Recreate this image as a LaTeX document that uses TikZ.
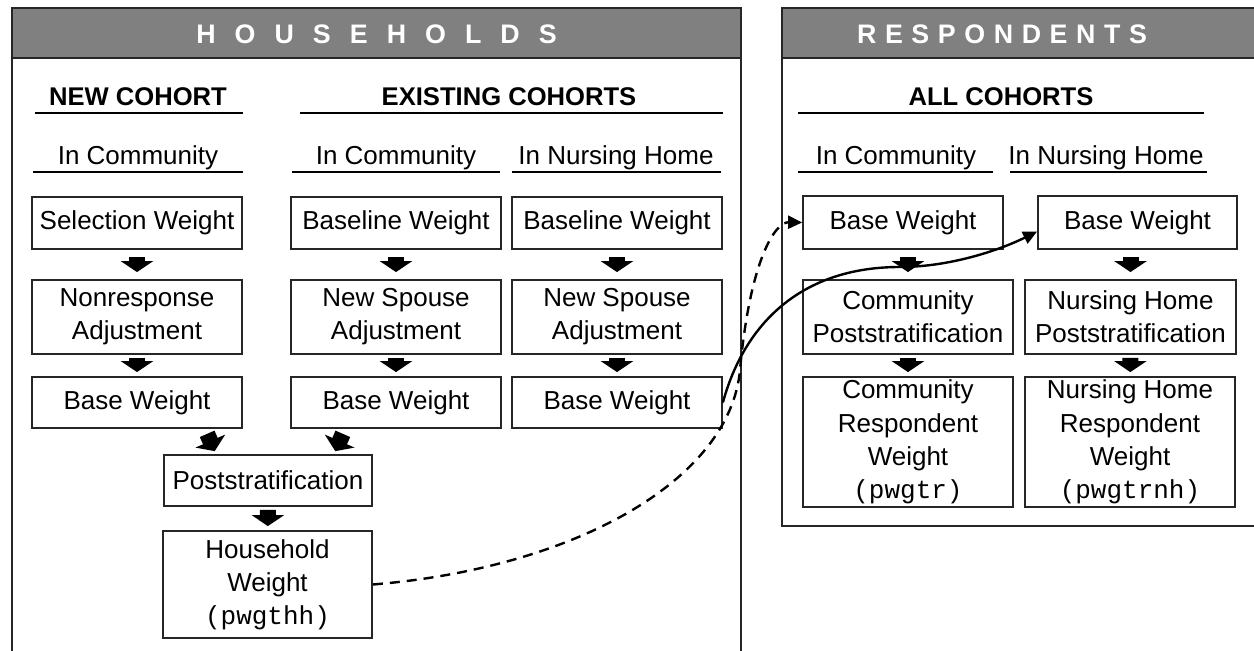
\documentclass[tikz,border=0pt]{standalone}
\usepackage{fontspec}
\setmainfont{Liberation Sans}
\setmonofont{Liberation Mono}
\usetikzlibrary{positioning,arrows.meta}
\newcommand{\ls}{\hspace{0.71em}}
\newcommand{\lsr}{\hspace{0.32em}}

\begin{document}
\begin{tikzpicture}[x=0.5pt,y=-0.5pt,
  every node/.style={font=\fontsize{13}{16.6}\selectfont},
  panel/.style={draw=black!85,line width=1pt,fill=white},
  bar/.style={draw=black!85,line width=1pt,fill=black!50},
  bartext/.style={anchor=base,text=white,font=\fontsize{13.4}{16}\selectfont\bfseries},
  head/.style={anchor=base,font=\fontsize{12.8}{16}\selectfont\bfseries},
  sub/.style={anchor=base},
  uline/.style={line width=1pt},
  wbox/.style={draw=black!85,line width=0.9pt,align=center,inner sep=0pt},
  sz/.style 2 args={minimum width=#1*0.5pt,minimum height=#2*0.5pt},
  blk/.style={line width=8pt,-{Triangle[length=5.5pt,width=16pt]}},
  gapa/.style={blk,shorten <=3.5pt,shorten >=3.5pt},
  gapb/.style={blk,shorten <=1.5pt,shorten >=2pt},
  flow/.style={line width=1.2pt,-{Triangle[length=7pt,width=6.5pt]}}]
\clip (0,0) rectangle (1254,651);
\fill[white] (0,0) rectangle (1254,651);

\draw[panel] (12,8) rectangle (741,680);
\draw[bar] (12,8) rectangle (741,58);
\node[bartext] (hhtitle) at (376.5,44) {H\ls O\ls U\ls S\ls E\ls H\ls O\ls L\ls D\ls S};
\draw[panel] (782,8) rectangle (1280,526);
\draw[bar] (782,8) rectangle (1280,58);
\node[bartext] (rtitle) at (1002,44) {R\lsr E\lsr S\lsr P\lsr O\lsr N\lsr D\lsr E\lsr N\lsr T\lsr S};

\node[head] (newc) at (138,106) {NEW COHORT};
\draw[uline] (35,113) -- (243,113);
\node[head] (exc) at (509,106) {EXISTING COHORTS};
\draw[uline] (300,113) -- (723,113);
\node[head] (allc) at (1001,106) {ALL COHORTS};
\draw[uline] (798,113) -- (1204,113);

\node[sub] (newcom) at (138,165) {In Community};
\draw[uline] (33,172) -- (243,172);
\node[sub] (excom) at (396,165) {In Community};
\draw[uline] (292,172) -- (500,172);
\node[sub] (exnh) at (616,165) {In Nursing Home};
\draw[uline] (512,172) -- (721,172);
\node[sub] (allcom) at (896,165) {In Community};
\draw[uline] (798,172) -- (993,172);
\node[sub] (allnh) at (1106,165) {In Nursing Home};
\draw[uline] (1010,172) -- (1207,172);

\node[wbox,sz={210}{52}] (selw) at (137,223) {Selection Weight};
\node[wbox,sz={210}{74}] (nonresp) at (137,317) {Nonresponse\\Adjustment};
\node[wbox,sz={210}{51}] (basea) at (137,402.5) {Base Weight};
\node[wbox,sz={210}{52}] (basec) at (396,223) {Baseline Weight};
\node[wbox,sz={210}{74}] (spousec) at (396,317) {New Spouse\\Adjustment};
\node[wbox,sz={210}{51}] (bwc) at (396,402.5) {Base Weight};
\node[wbox,sz={210}{52}] (basen) at (617,223) {Baseline Weight};
\node[wbox,sz={210}{74}] (spousen) at (617,317) {New Spouse\\Adjustment};
\node[wbox,sz={210}{51}] (bwn) at (617,402.5) {Base Weight};
\node[wbox,sz={208}{51}] (post) at (268,480.5) {Poststratification};
\node[wbox,sz={209}{107}] (hhw) at (267.5,584.5) {Household\\Weight\\\texttt{(pwgthh)}};

\node[wbox,sz={200}{53}] (rbasec) at (903,222.5) {Base Weight};
\node[wbox,sz={210}{74}] (rpostc) at (908,317) {Community\\Poststratification};
\node[wbox,sz={210}{130}] (rrespc) at (908,442) {Community\\Respondent\\Weight\\\texttt{(pwgtr)}};
\node[wbox,sz={199}{53}] (rbasen) at (1137.5,222.5) {Base Weight};
\node[wbox,sz={211}{74}] (rpostn) at (1130.5,317) {Nursing Home\\Poststratification};
\node[wbox,sz={210}{130}] (rrespn) at (1130,442) {Nursing Home\\Respondent\\Weight\\\texttt{(pwgtrnh)}};

\draw[gapa] (selw) -- (nonresp);
\draw[gapb] (nonresp) -- (basea);
\draw[gapa] (basec) -- (spousec);
\draw[gapb] (spousec) -- (bwc);
\draw[gapa] (basen) -- (spousen);
\draw[gapb] (spousen) -- (bwn);
\draw[blk,shorten <=2.7pt,shorten >=1.6pt] ([xshift=34pt]basea.south) -- ([xshift=-26pt]post.north);
\draw[blk,shorten <=2.7pt,shorten >=1.6pt] ([xshift=-25.5pt]bwc.south) -- ([xshift=33pt]post.north);
\draw[gapb] (post) -- (hhw);
\draw[gapa] (rbasec.south -| rpostc.north) -- (rpostc.north);
\draw[gapb] (rpostc) -- (rrespc);
\draw[gapa] (rbasen.south -| rpostn.north) -- (rpostn.north);
\draw[gapb] (rpostn) -- (rrespn);

\draw[flow] (bwn.east) .. controls (744,325) and (800,267) .. (900,267)
  .. controls (950,267) and (1000,250) .. ([yshift=-4.5pt]rbasen.west);
\draw[flow,dash pattern=on 5pt off 3.5pt] (hhw.east) .. controls (575,568) and (730,480) .. (740,370)
  .. controls (750,260) and (775,222) .. (rbasec.west);
\end{tikzpicture}
\end{document}
